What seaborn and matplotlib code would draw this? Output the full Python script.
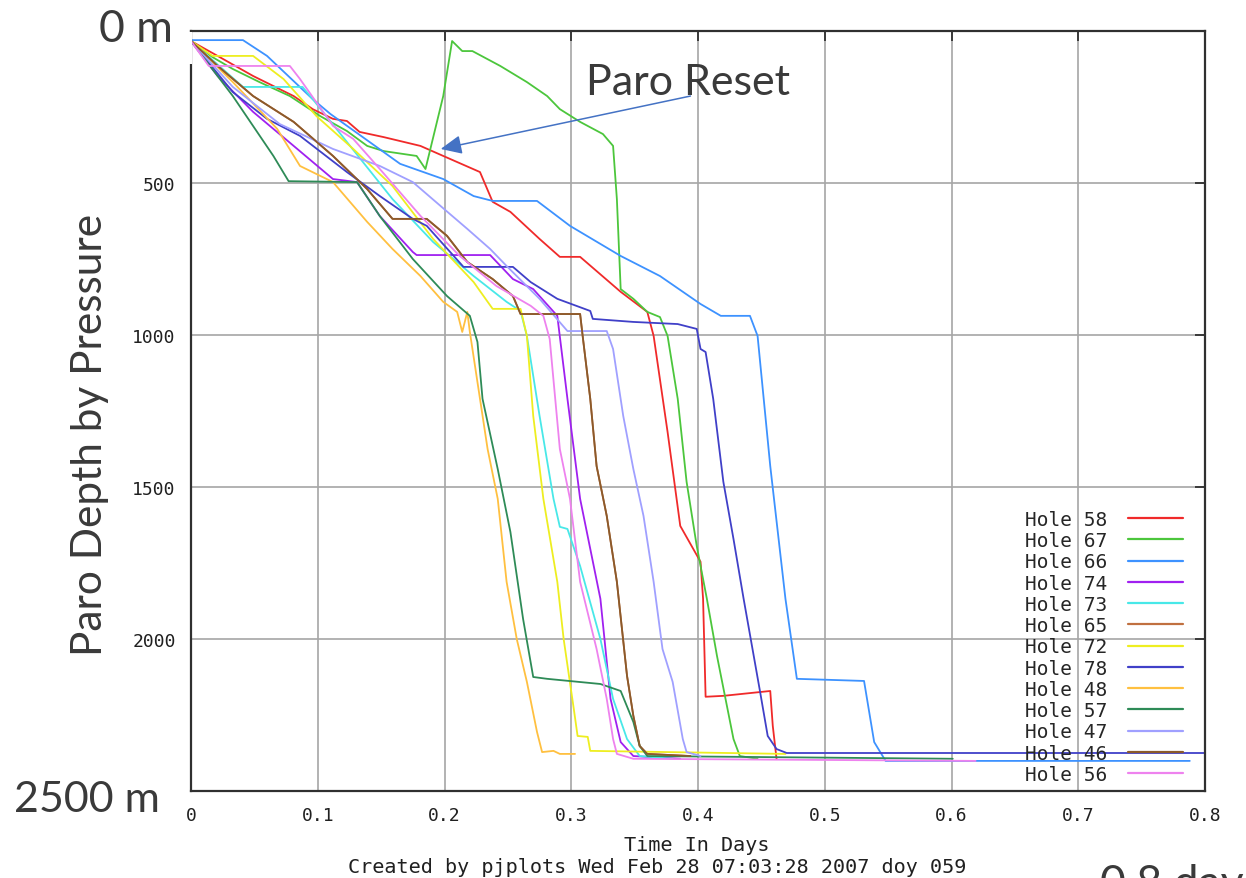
import matplotlib
matplotlib.use("Agg")
import matplotlib.pyplot as plt
from matplotlib.lines import Line2D
from matplotlib.patches import Rectangle
import pandas as pd
import seaborn as sns

sns.set_theme(style="whitegrid")

# ---- data (time in days, paro depth in m) ----
holes = ['Hole 58', 'Hole 67', 'Hole 66', 'Hole 74', 'Hole 73', 'Hole 65', 'Hole 72',
         'Hole 78', 'Hole 48', 'Hole 57', 'Hole 47', 'Hole 46', 'Hole 56']
colors = ['#f02a2a', '#4cc63c', '#3d92ff', '#a020f0', '#48e8e8', '#c07040', '#eeee20',
          '#4040c8', '#ffc040', '#2e8b57', '#a0a0ff', '#8b5a2b', '#ee82ee']

t58 = [0.0, 0.021, 0.049, 0.081, 0.096, 0.112, 0.123, 0.133, 0.152, 0.181, 0.199, 0.228,
       0.238, 0.252, 0.275, 0.291, 0.307, 0.339, 0.360, 0.365, 0.376, 0.386, 0.402, 0.404,
       0.406, 0.420, 0.457, 0.459, 0.462]
d58 = [33, 82, 148, 214, 257, 289, 296, 332, 349, 378, 411, 464, 562, 595, 684, 743, 743,
       858, 924, 1003, 1319, 1628, 1746, 1868, 2190, 2187, 2171, 2286, 2395]

t67 = [0.0, 0.017, 0.033, 0.054, 0.078, 0.102, 0.123, 0.139, 0.152, 0.178, 0.185, 0.199,
       0.206, 0.214, 0.222, 0.244, 0.265, 0.281, 0.291, 0.307, 0.325, 0.333, 0.336, 0.339,
       0.349, 0.360, 0.370, 0.376, 0.384, 0.391, 0.399, 0.407, 0.415, 0.428, 0.433, 0.447]
d67 = [33, 86, 125, 168, 214, 280, 329, 378, 395, 411, 454, 214, 33, 66, 66, 115, 168, 214,
       257, 299, 339, 378, 553, 849, 881, 924, 941, 1003, 1210, 1483, 1694, 1868, 2056,
       2329, 2385, 2394]

t66 = [0.0, 0.041, 0.060, 0.096, 0.110, 0.165, 0.199, 0.223, 0.238, 0.273, 0.299, 0.339,
       0.370, 0.402, 0.418, 0.441, 0.447, 0.457, 0.469, 0.478, 0.531, 0.539, 0.548, 0.788]
d66 = [30, 30, 82, 224, 273, 437, 487, 543, 559, 559, 641, 740, 806, 898, 937, 937, 1003,
       1431, 1868, 2131, 2138, 2339, 2401, 2401]

t74 = [0.0, 0.021, 0.049, 0.081, 0.112, 0.131, 0.149, 0.175, 0.178, 0.236, 0.254, 0.270,
       0.289, 0.297, 0.307, 0.323, 0.331, 0.339, 0.349, 0.386]
d74 = [33, 148, 266, 378, 487, 497, 609, 727, 737, 737, 816, 849, 937, 1210, 1539, 1868,
       2197, 2339, 2385, 2394]

t73 = [0.0, 0.041, 0.088, 0.096, 0.159, 0.191, 0.223, 0.249, 0.260, 0.265, 0.275, 0.286,
       0.291, 0.297, 0.307, 0.323, 0.333, 0.344, 0.354, 0.380]
d73 = [33, 184, 184, 224, 553, 694, 806, 891, 921, 1003, 1266, 1539, 1631, 1638, 1760,
       2000, 2197, 2329, 2385, 2394]

t65 = [0.0, 0.021, 0.049, 0.081, 0.112, 0.139, 0.159, 0.186, 0.202, 0.218, 0.238, 0.254,
       0.260, 0.307, 0.309, 0.315, 0.320, 0.328, 0.336, 0.344, 0.349, 0.354, 0.360, 0.394]
d65 = [33, 115, 214, 299, 411, 520, 618, 618, 674, 760, 816, 872, 931, 931, 1003, 1210,
       1431, 1595, 1812, 2121, 2253, 2352, 2378, 2385]

t72 = [0.0, 0.017, 0.049, 0.073, 0.099, 0.128, 0.159, 0.191, 0.223, 0.238, 0.260, 0.265,
       0.270, 0.278, 0.289, 0.294, 0.302, 0.305, 0.313, 0.315, 0.469]
d72 = [33, 82, 82, 158, 280, 388, 510, 684, 826, 914, 914, 1003, 1266, 1539, 1812, 2000,
       2230, 2319, 2322, 2368, 2378]

t78 = [0.0, 0.033, 0.060, 0.086, 0.123, 0.149, 0.175, 0.186, 0.215, 0.254, 0.268, 0.289,
       0.315, 0.317, 0.349, 0.384, 0.399, 0.402, 0.406, 0.412, 0.420, 0.428, 0.436, 0.449,
       0.455, 0.462, 0.470, 0.800]
d78 = [33, 201, 289, 345, 464, 543, 618, 641, 776, 776, 826, 881, 921, 947, 957, 964, 980,
       1046, 1056, 1210, 1483, 1671, 1868, 2174, 2319, 2362, 2375, 2375]

t48 = [0.0, 0.033, 0.068, 0.086, 0.112, 0.139, 0.159, 0.181, 0.199, 0.210, 0.214, 0.218,
       0.220, 0.228, 0.234, 0.242, 0.249, 0.257, 0.265, 0.273, 0.277, 0.286, 0.291, 0.303]
d48 = [33, 168, 322, 444, 497, 628, 717, 806, 891, 924, 990, 924, 990, 1210, 1375, 1539,
       1812, 2000, 2141, 2306, 2372, 2368, 2378, 2378]

t57 = [0.0, 0.033, 0.065, 0.077, 0.131, 0.149, 0.175, 0.202, 0.220, 0.226, 0.230, 0.242,
       0.252, 0.262, 0.270, 0.281, 0.323, 0.339, 0.349, 0.354, 0.360, 0.601]
d57 = [33, 214, 411, 494, 497, 609, 750, 872, 937, 1023, 1210, 1441, 1648, 1934, 2125,
       2131, 2148, 2171, 2273, 2352, 2385, 2394]

t47 = [0.0, 0.033, 0.070, 0.112, 0.149, 0.175, 0.197, 0.218, 0.236, 0.249, 0.275, 0.297,
       0.328, 0.333, 0.341, 0.349, 0.357, 0.365, 0.372, 0.380, 0.388, 0.391, 0.402]
d47 = [33, 184, 306, 388, 444, 497, 576, 651, 717, 773, 881, 987, 987, 1046, 1266, 1441,
       1595, 1812, 2033, 2141, 2329, 2372, 2385]

t46 = [0.0, 0.021, 0.049, 0.081, 0.112, 0.139, 0.159, 0.186, 0.202, 0.218, 0.238, 0.254,
       0.260, 0.307, 0.309, 0.315, 0.320, 0.328, 0.336, 0.344, 0.349, 0.354, 0.360, 0.394]
d46 = [33, 115, 214, 299, 411, 520, 618, 618, 674, 760, 816, 872, 931, 931, 1003, 1210,
       1431, 1595, 1812, 2121, 2253, 2352, 2378, 2385]

t56 = [0.0, 0.014, 0.078, 0.086, 0.112, 0.128, 0.149, 0.181, 0.212, 0.241, 0.268, 0.278,
       0.283, 0.291, 0.299, 0.307, 0.320, 0.328, 0.333, 0.336, 0.349, 0.619]
d56 = [33, 115, 115, 158, 312, 355, 454, 608, 740, 839, 904, 937, 1013, 1375, 1539, 1812,
       2033, 2197, 2329, 2378, 2394, 2401]

series = {
    'Hole 58': (t58, d58), 'Hole 67': (t67, d67), 'Hole 66': (t66, d66),
    'Hole 74': (t74, d74), 'Hole 73': (t73, d73), 'Hole 65': (t65, d65),
    'Hole 72': (t72, d72), 'Hole 78': (t78, d78), 'Hole 48': (t48, d48),
    'Hole 57': (t57, d57), 'Hole 47': (t47, d47), 'Hole 46': (t46, d46),
    'Hole 56': (t56, d56),
}

rows = []
for name in holes:
    tt, dd = series[name]
    for i, (t, d) in enumerate(zip(tt, dd)):
        rows.append({'hole': name, 'order': i, 'Time In Days': t, 'Depth': d})
df = pd.DataFrame(rows)

W, H = 1246, 879
MONO = 'DejaVu Sans Mono'
BIG = ['Lato', 'DejaVu Sans']
TXT = '#3a3a3a'


def fx(px):
    return px / W


def fy(py):
    return 1 - py / H


fig = plt.figure(figsize=(W / 100, H / 100), dpi=100)
ax = fig.add_axes([fx(191), fy(792), (1205 - 191) / W, (792 - 32) / H])

sns.lineplot(data=df, x='Time In Days', y='Depth', hue='hole', hue_order=holes,
             palette=dict(zip(holes, colors)), sort=False, estimator=None,
             linewidth=1.3, legend=False, ax=ax)

ax.set_xlim(0, 0.8)
ax.set_ylim(2500, 0)
ax.set_xticks([0, 0.1, 0.2, 0.3, 0.4, 0.5, 0.6, 0.7, 0.8])
ax.set_xticklabels(['0', '0.1', '0.2', '0.3', '0.4', '0.5', '0.6', '0.7', '0.8'])
ax.set_yticks([0, 500, 1000, 1500, 2000, 2500])
ax.set_yticklabels(['', '500', '1000', '1500', '2000', ''])
ax.set_xlabel('')
ax.set_ylabel('')
ax.set_facecolor('white')
ax.grid(True, color='#a6a6a6', linewidth=1.2)
ax.set_axisbelow(True)
for s in ax.spines.values():
    s.set_color('#303030')
    s.set_linewidth(1.6)
ax.tick_params(direction='in', length=7, width=1.3, color='#303030', top=True, right=True,
               labelsize=13, labelcolor='#202020')
ax.tick_params(axis='x', pad=11)
ax.tick_params(axis='y', pad=11)
for lbl in ax.get_xticklabels() + ax.get_yticklabels():
    lbl.set_fontfamily(MONO)

# legend: label first, line sample after
handles = [Line2D([], [], color=c, lw=1.6) for c in colors]
ax.legend(handles, holes, loc='upper left', bbox_to_anchor=(fx(1025), fy(511)),
          bbox_transform=fig.transFigure, frameon=False, markerfirst=False,
          prop={'family': MONO, 'size': 14}, handlelength=2.85, handletextpad=1.05,
          labelspacing=0.115, borderpad=0, borderaxespad=0)

# arrow for the paro reset
ax.annotate('', xy=(0.197, 388), xytext=(0.394, 214),
            arrowprops=dict(arrowstyle='-|>,head_length=0.4,head_width=0.18',
                            color='#4472c4', lw=1.1, mutation_scale=32,
                            shrinkA=0, shrinkB=0))

# white patch over the top of the left frame
fig.patches.append(Rectangle((fx(183), fy(65)), 9 / W, 32 / H, transform=fig.transFigure,
                             facecolor='white', edgecolor='none', zorder=5))

fig.text(fx(697), fy(846), 'Time In Days', family=MONO, fontsize=14.5, color='#202020',
         ha='center', va='center')
fig.text(fx(657), fy(868), 'Created by pjplots Wed Feb 28 07:03:28 2007 doy 059',
         family=MONO, fontsize=14.5, color='#202020', ha='center', va='center')

fig.text(fx(688), fy(95), 'Paro Reset', family=BIG, fontsize=31, color=TXT,
         ha='center', va='baseline')
fig.text(fx(136), fy(42), '0 m', family=BIG, fontsize=32, color=TXT,
         ha='center', va='baseline')
fig.text(fx(87), fy(812), '2500 m', family=BIG, fontsize=31, color=TXT,
         ha='center', va='baseline')
fig.text(fx(102), fy(435), 'Paro Depth by Pressure', family=BIG, fontsize=30.5, color=TXT,
         rotation=90, rotation_mode='anchor', ha='center', va='baseline')
fig.text(fx(1100), fy(864), '0.8 day', family=BIG, fontsize=32, color=TXT,
         ha='left', va='top')

fig.savefig('out.png', dpi=100, facecolor='white')
